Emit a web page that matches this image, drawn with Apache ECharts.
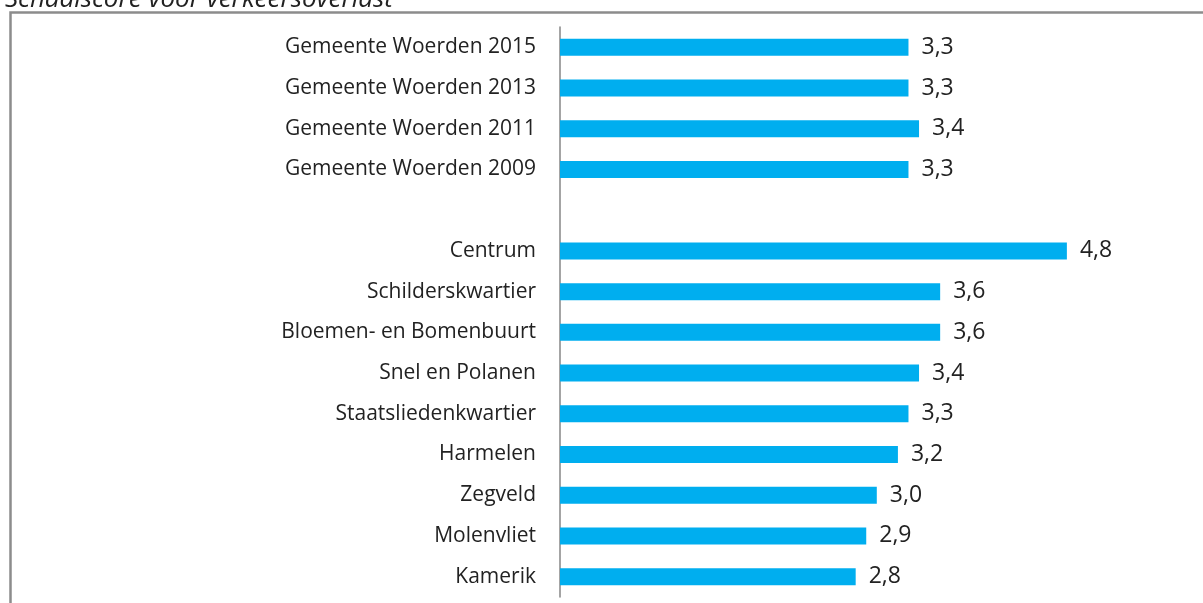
<!DOCTYPE html>
<html>
<head>
<meta charset="utf-8">
<title>Schaalscore voor verkeersoverlast</title>
<script src="https://cdn.jsdelivr.net/npm/echarts@6/dist/echarts.min.js"></script>
<style>
  html, body { margin: 0; padding: 0; background: #fff; }
  #chart { width: 1203px; height: 603px; }
</style>
</head>
<body>
<div id="chart"></div>
<script>
// schaalscore verkeersoverlast per wijk
var categories = [
    'Gemeente Woerden 2015',
    'Gemeente Woerden 2013',
    'Gemeente Woerden 2011',
    'Gemeente Woerden 2009',
    '',
    'Centrum',
    'Schilderskwartier',
    'Bloemen- en Bomenbuurt',
    'Snel en Polanen',
    'Staatsliedenkwartier',
    'Harmelen',
    'Zegveld',
    'Molenvliet',
    'Kamerik'
];
var scores = [3.3, 3.3, 3.4, 3.3, '-', 4.8, 3.6, 3.6, 3.4, 3.3, 3.2, 3.0, 2.9, 2.8];
var titleText = 'Schaalscore voor verkeersoverlast';

var myChart = echarts.init(document.getElementById('chart'));

var option = {
    animation: false,
    graphic: [
        {
            type: 'text',
            left: 5,
            top: -13,
            style: {
                text: titleText,
                font: 'italic 26px "Open Sans"',
                fill: '#222'
            }
        },
        {
            type: 'rect',
            shape: { x: 10.5, y: 12.5, width: 1300, height: 700 },
            style: { fill: 'none', stroke: '#8c8c8c', lineWidth: 2.5 }
        }
    ],
    grid: {
        left: 560,
        right: 115,
        top: 27,
        bottom: 6
    },
    xAxis: {
        type: 'value',
        min: 0,
        max: 5,
        show: false
    },
    yAxis: {
        type: 'category',
        inverse: true,
        data: categories,
        axisLine: { show: true, lineStyle: { color: '#868686', width: 1.5 } },
        axisTick: { show: false },
        axisLabel: {
            margin: 24,
            fontFamily: 'Open Sans',
            fontSize: 21,
            color: '#222'
        }
    },
    series: [
        {
            type: 'bar',
            data: scores,
            barWidth: 17,
            itemStyle: { color: '#00aeef' },
            label: {
                show: true,
                position: 'right',
                distance: 13,
                fontFamily: 'Open Sans',
                fontSize: 23,
                color: '#222',
                formatter: function (p) {
                    return p.value.toFixed(1).replace('.', ',');
                }
            }
        }
    ]
};

myChart.setOption(option);
</script>
</body>
</html>
